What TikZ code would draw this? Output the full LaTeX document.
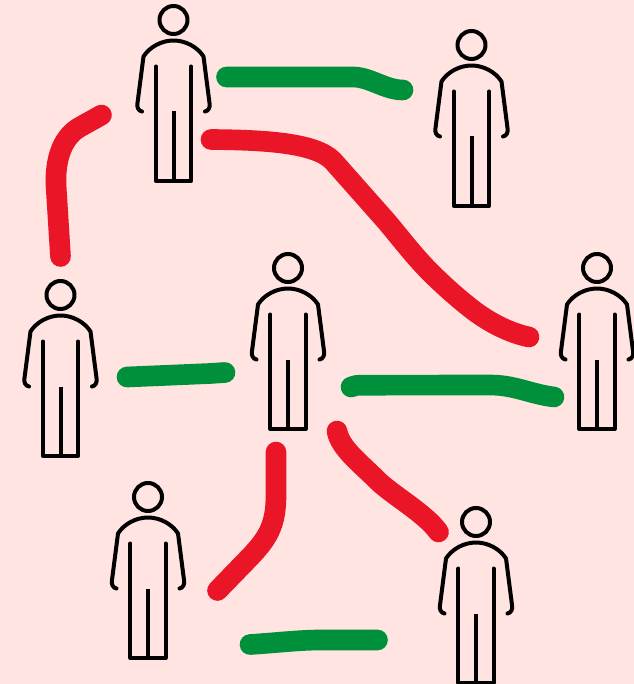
\documentclass[tikz,border=0pt]{standalone}
\definecolor{bgpink}{HTML}{FFE4E1}
\definecolor{linkred}{HTML}{EB1528}
\definecolor{linkgreen}{HTML}{00903C}
\tikzset{
  x=0.75pt,y=-0.75pt,
  figure line/.style={draw=black,line width=3pt,line join=round},
  good/.style={draw=linkgreen,line width=15.5pt,line cap=round,line join=round},
  bad/.style={draw=linkred,line width=15.5pt,line cap=round,line join=round},
  person/.pic={
    \draw[figure line] (0,0) circle (14);
    \draw[figure line,line cap=round] (-31.5,91.5) .. controls (-35,91) and (-37,87) .. (-36,83)
      -- (-30,36.5) .. controls (-24,27) and (-12,20.5) .. (0,20.5)
      .. controls (12,20.5) and (24,27) .. (30,36.5)
      -- (36,83) .. controls (37,87) and (35,91) .. (31.5,91.5);
    \draw[figure line,line cap=round] (-17.6,46.5) -- (-17.6,161) -- (17.6,161) -- (17.6,46.5);
    \draw[figure line] (0,91.5) -- (0,161);
  }
}
\begin{document}
\begin{tikzpicture}
\fill[bgpink] (0,0) rectangle (634,684);
\useasboundingbox (0,0) rectangle (634,684);
\pic (pa) at (173.5,20) {person};
\pic (pb) at (471.5,45) {person};
\pic (pc) at (60.5,295) {person};
\pic (pd) at (288,268) {person};
\pic (pe) at (597,268) {person};
\pic (pf) at (148,497) {person};
\pic (pg) at (476,522) {person};
% green links
\draw[good] (226.5,77) -- (353,77) .. controls (370,77) and (385,90) .. (403,90);
\draw[good] (127,377) -- (210,373.5) -- (225,372.5);
\draw[good] (351,387) .. controls (354,385.5) and (357,385.2) .. (362,385.2) -- (490,385) .. controls (515,385) and (530,394) .. (554,397);
\draw[good] (250,644.5) .. controls (280,642.5) and (300,640) .. (320,640) -- (377.5,640);
% red links
\draw[bad] (101.5,115) -- (80,127) .. controls (62,137) and (55,160) .. (56,185) -- (60.5,256.5);
\draw[bad] (211,139.5) .. controls (260,140) and (315,142) .. (333,161) -- (387,222) .. controls (402,240) and (415,257) .. (430,272) .. controls (445,287) and (460,300) .. (473,310) .. controls (490,323) and (510,333) .. (529,337);
\draw[bad] (276,452) -- (276,495) .. controls (276,525) and (268,538) .. (250,557) -- (217.5,590.5);
\draw[bad] (337,431) .. controls (340,448) and (360,463) .. (377,480) .. controls (392,495) and (425,513) .. (438.5,532);
\end{tikzpicture}
\end{document}
